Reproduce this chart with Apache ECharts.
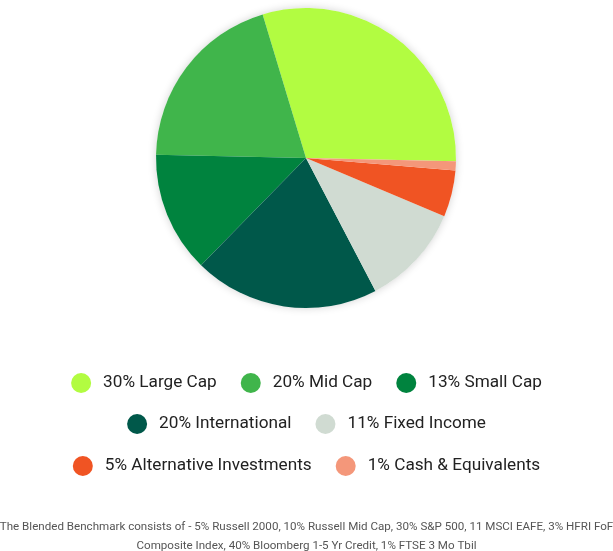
<!DOCTYPE html>
<html>
<head>
<meta charset="utf-8">
<script src="https://cdn.jsdelivr.net/npm/echarts@6/dist/echarts.min.js"></script>
<style>
html,body{margin:0;padding:0;background:#fff;}
#chart{width:613px;height:551px;}
</style>
</head>
<body>
<div id="chart"></div>
<script>
var categories = ['30% Large Cap','20% Mid Cap','13% Small Cap','20% International','11% Fixed Income','5% Alternative Investments','1% Cash & Equivalents'];
var values = [30,20,13,20,11,5,1];
var colors = ['#b2fc41','#40b54b','#00833e','#00584a','#d0dbd2','#f05423','#f4977a'];
var legendRows = [[0,1,2],[3,4],[5,6]];
var footnoteLines = ['The Blended Benchmark consists of - 5% Russell 2000, 10% Russell Mid Cap, 30% S&P 500, 11 MSCI EAFE, 3% HFRI FoF','Composite Index, 40% Bloomberg 1-5 Yr Credit, 1% FTSE 3 Mo Tbil'];

var chart = echarts.init(document.getElementById('chart'), null, {renderer:'canvas'});
var rowTops = [368, 409, 451];
var legends = legendRows.map(function(row, i){
  return {
    data: row.map(function(k){ return {name: categories[k], icon:'circle'}; }),
    left: 'center',
    top: rowTops[i],
    orient: 'horizontal',
    itemWidth: 20,
    itemHeight: 20,
    itemGap: 24,
    selectedMode: false,
    textStyle: {fontFamily:'Roboto', fontSize:17.2, color:'#222', padding:[0,0,0,7]}
  };
});
var option = {
  animation: false,
  color: colors,
  graphic: footnoteLines.map(function(t, i){
    return {
      type: 'text',
      left: 'center',
      top: 521 + i * 19,
      style: {text: t, font: '11.6px Roboto', fill: '#555', textAlign: 'center'}
    };
  }),
  legend: legends,
  series: [
    {
      type: 'pie',
      silent: true,
      center: [306, 158],
      radius: 150,
      label: {show:false},
      labelLine: {show:false},
      itemStyle: {color:'#fff', shadowBlur:8, shadowColor:'rgba(0,0,0,0.18)'},
      data: [{value:1, name:'_bg'}],
      z: 1
    },
    {
      type: 'pie',
      center: [306, 158],
      radius: 150,
      startAngle: -1.2,
      clockwise: false,
      label: {show:false},
      labelLine: {show:false},
      silent: true,
      itemStyle: {borderWidth:0},
      data: categories.map(function(c,i){ return {name:c, value:values[i], itemStyle:{color:colors[i]}}; }),
      z: 2
    }
  ]
};
chart.setOption(option);
</script>
</body>
</html>
